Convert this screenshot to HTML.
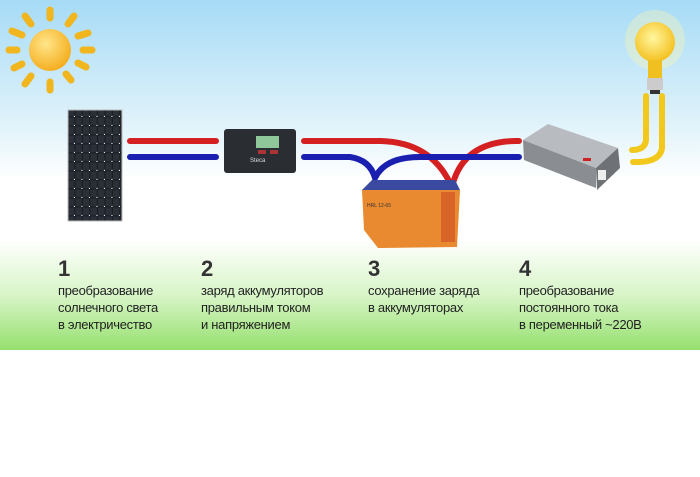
<!DOCTYPE html>
<html><head><meta charset="utf-8"><style>
body{margin:0;width:700px;height:477px;overflow:hidden;background:#fff;font-family:"Liberation Sans","DejaVu Sans",sans-serif}
.t{position:absolute;font-size:13px;line-height:17px;color:#222;font-family:"Liberation Sans",sans-serif;letter-spacing:-0.3px}
.t b{display:block;font-size:22px;line-height:22px;margin-bottom:2px;color:#333}
</style></head><body>
<svg width="700" height="477" style="position:absolute;left:0;top:0">
<defs>
<linearGradient id="sky" x1="0" y1="0" x2="0" y2="1">
<stop offset="0" stop-color="#a6dbf6"/><stop offset="0.55" stop-color="#e4f4fb"/><stop offset="0.75" stop-color="#fff"/><stop offset="1" stop-color="#fff"/></linearGradient>
<linearGradient id="grass" x1="0" y1="0" x2="0" y2="1">
<stop offset="0" stop-color="#fff"/><stop offset="0.5" stop-color="#d8f5c8"/><stop offset="1" stop-color="#96e06e"/></linearGradient>
<radialGradient id="sun" cx="0.4" cy="0.35" r="0.7"><stop offset="0" stop-color="#ffe68a"/><stop offset="1" stop-color="#f4aa18"/></radialGradient>
<radialGradient id="bulb" cx="0.45" cy="0.4" r="0.6"><stop offset="0" stop-color="#fff7a0"/><stop offset="1" stop-color="#f4c020"/></radialGradient>
<pattern id="cells" width="7.5" height="9" patternUnits="userSpaceOnUse"><rect width="7.5" height="9" fill="#1a1d22"/><rect x="0.5" y="0.5" width="6.3" height="7.8" fill="#2b3038"/><circle cx="7.2" cy="8.7" r="0.9" fill="#eee"/></pattern>
</defs>
<rect width="700" height="240" fill="url(#sky)"/>
<rect y="240" width="700" height="110" fill="url(#grass)"/>
<!-- sun -->
<g stroke="#f1b51e" stroke-width="7" stroke-linecap="round">
<line x1="50" y1="10" x2="50" y2="18"/><line x1="50" y1="82" x2="50" y2="90"/>
<line x1="9" y1="50" x2="17" y2="50"/><line x1="83" y1="50" x2="92" y2="50"/>
<line x1="25" y1="16" x2="31" y2="24"/><line x1="74" y1="16" x2="68" y2="24"/>
<line x1="25" y1="84" x2="31" y2="76"/><line x1="71" y1="80" x2="66" y2="74"/>
<line x1="12" y1="31" x2="22" y2="35"/><line x1="88" y1="33" x2="78" y2="36"/>
<line x1="14" y1="68" x2="22" y2="64"/><line x1="86" y1="67" x2="78" y2="63"/>
</g>
<circle cx="50" cy="50" r="21" fill="url(#sun)"/>
<!-- panel -->
<rect x="68" y="110" width="54" height="111" fill="url(#cells)" stroke="#bbb" stroke-width="1"/>
<!-- wires -->
<g stroke-width="6" stroke-linecap="round" fill="none">
<line x1="130" y1="141" x2="216" y2="141" stroke="#d42020"/>
<line x1="130" y1="157" x2="216" y2="157" stroke="#1a1fb0"/>
<path d="M304 141 L380 141 Q430 142 450 183" stroke="#d42020"/>
<path d="M453 183 Q465 142 515 141 L519 141" stroke="#d42020"/>
<path d="M304 157 L350 157 Q370 160 375 178 Q385 157 420 157 L519 157" stroke="#1a1fb0"/>
<path d="M646 96 L646 140 Q645 150 632 150" stroke="#f2c81c"/>
<path d="M662 96 L662 148 Q660 163 633 162" stroke="#f2c81c"/>
</g>
<!-- controller -->
<rect x="224" y="129" width="72" height="44" rx="3" fill="#2a2e33"/>
<rect x="256" y="136" width="23" height="12" fill="#8fc69a"/>
<rect x="258" y="150" width="8" height="4" fill="#a33"/><rect x="270" y="150" width="8" height="4" fill="#a33"/>
<text x="250" y="162" font-size="6" fill="#ddd" font-family="Liberation Sans">Steca</text>
<!-- battery -->
<polygon points="362,190 372,180 455,180 460,190" fill="#3a4aa0"/>
<polygon points="362,190 460,190 457,247 378,248 364,230" fill="#ea8a30"/>
<rect x="441" y="192" width="14" height="50" fill="#d8642a"/>
<text x="367" y="207" font-size="5" fill="#333">HRL 12-65</text>
<!-- inverter -->
<polygon points="523,140 548,124 618,148 596,168" fill="#b8bcc0"/>
<polygon points="523,140 596,168 596,188 524,160" fill="#8a8e92"/>
<polygon points="596,168 618,148 620,168 597,190" fill="#6e7276"/>
<rect x="598" y="170" width="8" height="10" fill="#eee"/>
<rect x="583" y="158" width="8" height="3" fill="#c22"/>
<!-- bulb -->
<circle cx="655" cy="40" r="30" fill="#fff6b0" opacity="0.35"/>
<circle cx="655" cy="42" r="20" fill="url(#bulb)"/>
<rect x="648" y="60" width="14" height="20" fill="#f0c020"/>
<rect x="647" y="78" width="16" height="12" fill="#ccc"/>
<rect x="650" y="90" width="10" height="4" fill="#333"/>
</svg>
<div class="t" style="left:58px;top:258px"><b>1</b>преобразование<br>солнечного света<br>в электричество</div>
<div class="t" style="left:201px;top:258px"><b>2</b>заряд аккумуляторов<br>правильным током<br>и напряжением</div>
<div class="t" style="left:368px;top:258px"><b>3</b>сохранение заряда<br>в аккумуляторах</div>
<div class="t" style="left:519px;top:258px"><b>4</b>преобразование<br>постоянного тока<br>в переменный ~220В</div>
</body></html>
